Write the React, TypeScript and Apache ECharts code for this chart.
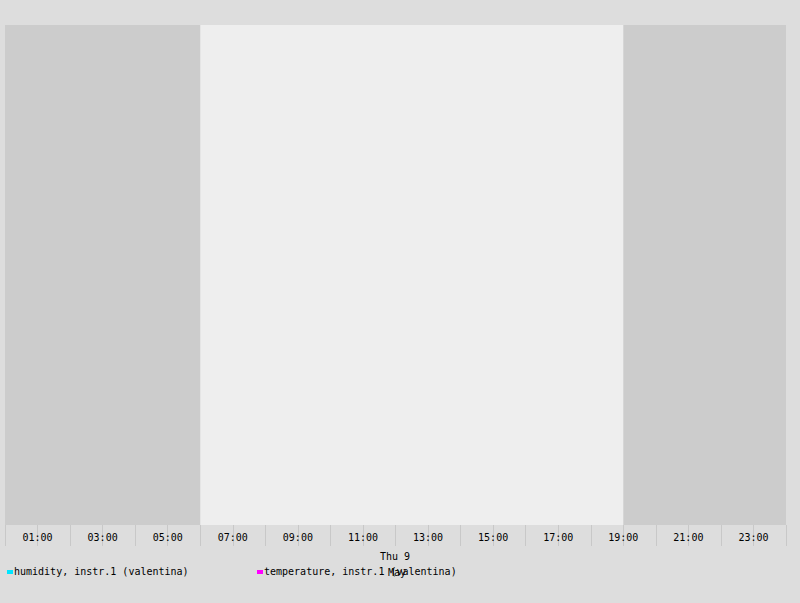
import { useEffect, useRef } from 'react';
import * as echarts from 'echarts';

const hours = [1, 3, 5, 7, 9, 11, 13, 15, 17, 19, 21, 23];
const nightRanges: [number, number][] = [[0, 6], [19, 24]];
const legendItems = [
  { name: 'humidity, instr.1 (valentina)', color: '#00e5ff' },
  { name: 'temperature, instr.1 (valentina)', color: '#ff00ff' },
];
const dayLabel = 'Thu 9';
const monthLabel = 'May';

const font = '"DejaVu Sans Mono", monospace';

export default function App() {
  const ref = useRef<HTMLDivElement>(null);

  useEffect(() => {
    if (!ref.current) return;
    const chart = echarts.init(ref.current, undefined, { renderer: 'svg' });
    const pad = (n: number) => (n < 10 ? '0' + n : '' + n) + ':00';
    chart.setOption({
      animation: false,
      backgroundColor: '#dddddd',
      grid: { left: 5, right: 14, top: 25, bottom: 78, show: true, backgroundColor: '#eeeeee', borderWidth: 0 },
      xAxis: {
        type: 'value',
        min: 0,
        max: 24,
        interval: 1,
        axisLine: { show: false },
        axisTick: { show: true, length: 21, lineStyle: { color: '#c8c8c8', width: 1 } },
        axisLabel: {
          margin: 7,
          fontFamily: font,
          fontSize: 10,
          color: '#000',
          formatter: (v: number) => (hours.includes(v) ? pad(v) : ''),
        },
        splitLine: { show: false },
      },
      yAxis: { type: 'value', min: 0, max: 1, show: false },
      series: [
        {
          type: 'line',
          name: legendItems[0].name,
          data: [],
          markArea: {
            silent: true,
            itemStyle: { color: '#cccccc' },
            data: nightRanges.map(([a, b]) => [{ xAxis: a }, { xAxis: b }]),
          },
        },
        { type: 'line', name: legendItems[1].name, data: [] },
      ],
      graphic: [
        { type: 'text', left: 380, top: 551, style: { text: dayLabel, font: `10px ${font}`, fill: '#000' } },
        ...legendItems.flatMap((it, i) => [
          { type: 'rect', shape: { x: 7 + i * 250, y: 570, width: 6, height: 4 }, style: { fill: it.color } },
          { type: 'text', left: 14 + i * 250, top: 566, style: { text: it.name, font: `10px ${font}`, fill: '#000' } },
        ]),
        { type: 'text', left: 388, top: 567, style: { text: monthLabel, font: `10px ${font}`, fill: '#000' } },
      ],
    });
    return () => chart.dispose();
  }, []);

  return <div ref={ref} style={{ width: 800, height: 603, position: 'absolute', left: 0, top: 0 }} />;
}
